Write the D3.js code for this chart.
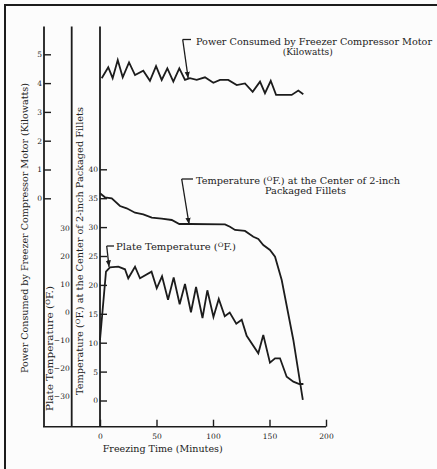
<!DOCTYPE html>
<html>
<head>
<meta charset="utf-8">
<script src="https://cdn.jsdelivr.net/npm/d3@7"></script>
<style>
  body { margin: 0; background: #fcfcfc; }
  svg { display: block; }
  text { font-family: "DejaVu Serif", serif; fill: #222; }
</style>
</head>
<body>
<div id="chart"></div>
<script>
// tick values
const timeTicks = [0, 50, 100, 150, 200]
const powerTicks = [0, 1, 2, 3, 4, 5]
const fishTicks = [0, 5, 10, 15, 20, 25, 30, 35, 40]
const plateTicks = [-30, -20, -10, 0, 10, 20, 30]

// power consumed by compressor motor (kW)
const powerTime = [1.5, 7.3, 11.2, 15.7, 20.1, 25.7, 31, 38.3, 44.2, 49.6, 54.6, 59.6, 64.9, 70.2, 75.2, 79.6, 85.6, 92.9, 100.3, 106.2, 113.5, 121, 128.3, 135.1, 141.6, 146, 151.1, 155.8, 169.6, 175.5, 179.9]
const powerKw = [4.17, 4.55, 4.17, 4.8, 4.2, 4.72, 4.28, 4.43, 4.08, 4.59, 4.11, 4.51, 4.05, 4.51, 4.11, 4.17, 4.11, 4.2, 4.01, 4.11, 4.11, 3.93, 3.99, 3.7, 4.05, 3.65, 4.08, 3.59, 3.59, 3.74, 3.61]

// temperature at the centre of the fillets (°F)
const fishTime = [0, 4.4, 10.4, 17.7, 23.6, 31, 38.3, 45.8, 54.6, 63.5, 70.2, 79.6, 110.6, 115, 119.5, 128.3, 135.7, 140.1, 144.5, 150.4, 154.9, 160.8, 171.1, 179.5]
const fishTemp = [35.85, 35.16, 34.98, 33.65, 33.25, 32.49, 32.21, 31.63, 31.45, 31.23, 30.54, 30.54, 30.48, 30.07, 29.5, 29.33, 28.34, 27.94, 26.9, 26.04, 24.88, 20.85, 10.47, 0.09]

// plate temperature (°F)
const plateTime = [0, 5.3, 8.8, 16.2, 22.1, 25, 31, 35.4, 45.6, 50.2, 54.9, 60.2, 65.2, 70.5, 75.2, 80.5, 85, 90.7, 95, 100.4, 105.1, 110.4, 114.8, 120.6, 125.4, 129.8, 140.1, 144.5, 150.4, 154.9, 159.3, 165.2, 171.1, 176.4, 180]
const plateTemp = [-9.96, 14.47, 16.05, 16.26, 15.33, 12.11, 16.26, 12.11, 14.47, 8.53, 12.83, 4.45, 12.4, 2.84, 10.07, -0.02, 9, -2.09, 7.82, -1.74, 4.7, -1.48, -0.13, -4.13, -2.7, -8.46, -14.72, -8.18, -18.09, -16.51, -16.51, -23.09, -24.88, -25.71, -25.71]

const width = 437, height = 469
const ink = '#1c1c1c'

const svg = d3.select('#chart').append('svg')
  .attr('width', width)
  .attr('height', height)

// scanned frame, only top and left edges show
svg.append('path')
  .attr('d', 'M5,469 L5,5 L437,5')
  .attr('fill', 'none')
  .attr('stroke', ink)
  .attr('stroke-width', 2)

const x = d3.scaleLinear().domain([0, 200]).range([100, 326])
const yPower = d3.scaleLinear().domain([0, 5]).range([198.3, 54.3])
const yFish = d3.scaleLinear().domain([0, 40]).range([400.5, 169.3])
const yPlate = d3.scaleLinear().domain([-30, 30]).range([396, 228.3])

const axisTop = 26.5, axisBottom = 426.7

// vertical axis lines + x axis line
const axisXs = [44, 71.7, x(0)]
axisXs.forEach((ax) => {
  svg.append('line')
    .attr('x1', ax).attr('x2', ax)
    .attr('y1', axisTop).attr('y2', axisBottom)
    .attr('stroke', ink).attr('stroke-width', 1.8)
})
svg.append('line')
  .attr('x1', 43).attr('x2', x(200))
  .attr('y1', axisBottom).attr('y2', axisBottom)
  .attr('stroke', ink).attr('stroke-width', 1.6)

function styleAxis(g) {
  g.select('.domain').remove()
  g.selectAll('.tick line').attr('stroke', ink).attr('stroke-width', 1.4)
  g.selectAll('.tick text').attr('font-family', '"DejaVu Serif", serif').attr('font-size', 7.5).attr('fill', '#333')
}

const fmt = d3.format('d')

svg.append('g')
  .attr('transform', 'translate(44,0)')
  .call(d3.axisLeft(yPower).tickValues(powerTicks).tickFormat(fmt).tickSizeInner(-7).tickSizeOuter(0).tickPadding(2))
  .call(styleAxis)

svg.append('g')
  .attr('transform', `translate(${x(0)},0)`)
  .call(d3.axisLeft(yFish).tickValues(fishTicks).tickFormat(fmt).tickSizeInner(-7).tickSizeOuter(0).tickPadding(2))
  .call(styleAxis)

svg.append('g')
  .attr('transform', 'translate(71.7,0)')
  .call(d3.axisLeft(yPlate).tickValues(plateTicks).tickFormat(fmt).tickSize(0).tickPadding(2))
  .call(styleAxis)

svg.append('g')
  .attr('transform', `translate(0,${axisBottom})`)
  .call(d3.axisBottom(x).tickValues(timeTicks).tickFormat(fmt).tickSizeInner(-7).tickSizeOuter(0).tickPadding(7))
  .call(styleAxis)

// curves
function drawCurve(times, vals, yScale) {
  const pts = times.map((t, i) => [x(t), yScale(vals[i])])
  svg.append('path')
    .attr('d', d3.line()(pts))
    .attr('fill', 'none')
    .attr('stroke', ink)
    .attr('stroke-width', 1.8)
    .attr('stroke-linejoin', 'miter')
}
drawCurve(powerTime, powerKw, yPower)
drawCurve(fishTime, fishTemp, yFish)
drawCurve(plateTime, plateTemp, yPlate)

// leaders with small arrow heads
svg.append('defs').append('marker')
  .attr('id', 'tip')
  .attr('viewBox', '0 0 10 10')
  .attr('refX', 10).attr('refY', 5)
  .attr('markerWidth', 5).attr('markerHeight', 5)
  .attr('orient', 'auto')
  .append('path').attr('d', 'M0,1 L10,5 L0,9 Z').attr('fill', ink)

function leader(x0, y0, xEnd, tip) {
  svg.append('line')
    .attr('x1', x0).attr('x2', xEnd).attr('y1', y0).attr('y2', y0)
    .attr('stroke', ink).attr('stroke-width', 1.3)
  svg.append('line')
    .attr('x1', x0).attr('y1', y0).attr('x2', tip[0]).attr('y2', tip[1])
    .attr('stroke', ink).attr('stroke-width', 1.3)
    .attr('marker-end', 'url(#tip)')
}
leader(182.7, 39.5, 191, [x(78), yPower(4.17)])
leader(181.7, 179, 193, [x(78.8), yFish(30.5)])
leader(106.7, 246, 114, [x(8), yPlate(16.2)])

function addParts(t, parts) {
  parts.forEach((p) => {
    if (p === 'deg') {
      t.append('tspan').attr('font-size', 6).attr('dy', -3).text('O')
      t.append('tspan').attr('dy', 3).text('F.)')
    } else {
      t.append('tspan').text(p)
    }
  })
}

function label(tx, ty, parts, len, anchor) {
  const t = svg.append('text')
    .attr('x', tx).attr('y', ty)
    .attr('font-size', 8.5)
    .attr('text-anchor', anchor || 'start')
    .attr('textLength', len)
    .attr('lengthAdjust', 'spacingAndGlyphs')
  addParts(t, parts)
}

label(196, 44.7, ['Power Consumed by Freezer Compressor Motor'], 236)
label(307.7, 54.5, ['(Kilowatts)'], 50, 'middle')
label(196, 183.7, ['Temperature (', 'deg', ' at the Center of 2-inch'], 204)
label(305.5, 193.8, ['Packaged Fillets'], 81, 'middle')
label(116, 249.7, ['Plate Temperature (', 'deg'], 120)

// rotated axis titles
function vTitle(cx, cy, parts, len) {
  const t = svg.append('text')
    .attr('transform', `translate(${cx},${cy}) rotate(-90)`)
    .attr('text-anchor', 'middle')
    .attr('font-size', 8.5)
    .attr('textLength', len)
    .attr('lengthAdjust', 'spacingAndGlyphs')
  addParts(t, parts)
}
vTitle(28, 228, ['Power Consumed by Freezer Compressor Motor (Kilowatts)'], 290)
vTitle(53, 348.5, ['Plate Temperature (', 'deg'], 125)
vTitle(83, 251, ['Temperature (', 'deg', ' at the Center of 2-inch Packaged Fillets'], 288)

svg.append('text')
  .attr('x', 162.7).attr('y', 452)
  .attr('text-anchor', 'middle')
  .attr('font-size', 8.5)
  .attr('textLength', 120)
  .attr('lengthAdjust', 'spacingAndGlyphs')
  .text('Freezing Time (Minutes)')
</script>
</body>
</html>
